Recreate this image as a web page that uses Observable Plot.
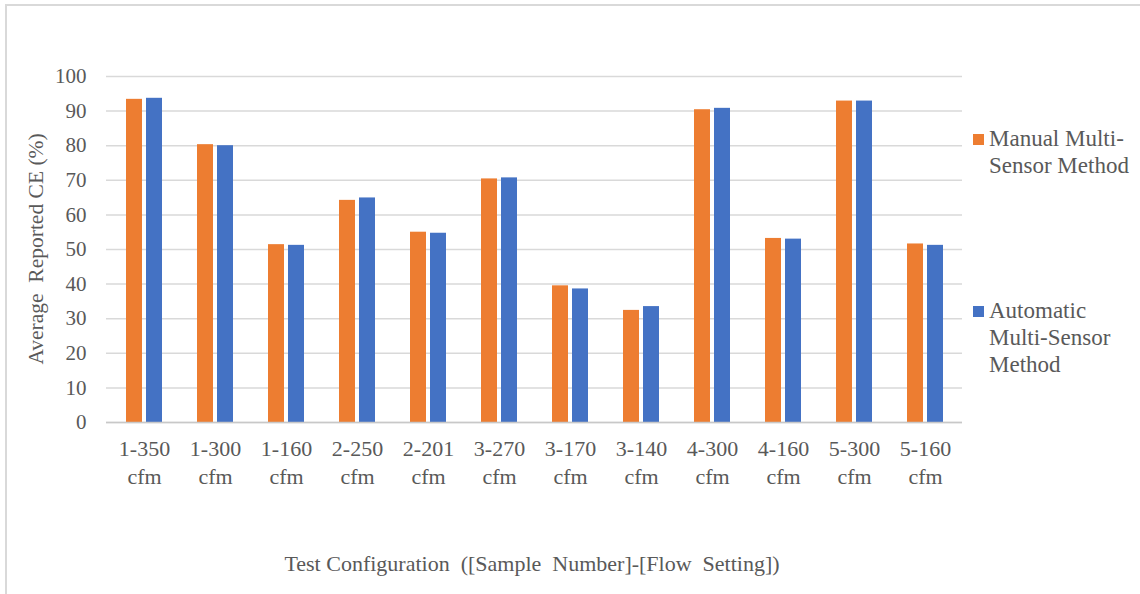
<!DOCTYPE html>
<html>
<head>
<meta charset="utf-8">
<script src="https://cdn.jsdelivr.net/npm/d3@7"></script>
<script src="https://cdn.jsdelivr.net/npm/@observablehq/plot@0.6"></script>
<style>
  html, body { margin: 0; padding: 0; background: #fff; }
  #wrap { position: relative; width: 1140px; height: 594px; overflow: hidden; font-family: "Liberation Serif", "Times New Roman", serif; color: #595959; }
  #frame { position: absolute; left: 5px; top: 4px; width: 1200px; height: 700px; border-left: 2px solid #d9d9d9; border-top: 2px solid #d9d9d9; }
  #chart { position: absolute; left: 0; top: 0; }
  .t { position: absolute; white-space: pre; font-size: 22px; line-height: 27px; }
  #ytitle { left: 36px; top: 249px; transform: translate(-50%, -50%) rotate(-90deg); font-size: 21.5px; }
  #xtitle { left: 532px; top: 563px; transform: translate(-50%, -50%); }
  .leg { position: absolute; left: 973px; font-size: 23px; line-height: 27px; }
  .leg .sw { position: absolute; left: 0; top: 9px; width: 11px; height: 11px; }
  .leg .lb { position: absolute; left: 16px; top: 0; white-space: pre; }
</style>
</head>
<body>
<div id="wrap">
  <div id="frame"></div>
  <div id="chart"></div>
  <div class="t" id="ytitle">Average  Reported CE (%)</div>
  <div class="t" id="xtitle">Test Configuration  ([Sample  Number]-[Flow  Setting])</div>
  <div id="legend"></div>
</div>
<script>
const categories = ["1-350 cfm", "1-300 cfm", "1-160 cfm", "2-250 cfm", "2-201 cfm", "3-270 cfm", "3-170 cfm", "3-140 cfm", "4-300 cfm", "4-160 cfm", "5-300 cfm", "5-160 cfm"];
const manual    = [93.4, 80.3, 51.4, 64.2, 55.0, 70.4, 39.5, 32.4, 90.4, 53.2, 92.9, 51.6];
const automatic = [93.7, 80.0, 51.2, 64.9, 54.7, 70.7, 38.6, 33.5, 90.8, 53.0, 92.9, 51.2];
const seriesNames = ["Manual Multi-\nSensor Method", "Automatic\nMulti-Sensor\nMethod"];
const seriesColors = ["#ED7D31", "#4472C4"];
const yTicks = [0, 10, 20, 30, 40, 50, 60, 70, 80, 90, 100];

const manualData = categories.map((c, i) => ({cat: c, value: manual[i]}));
const autoData = categories.map((c, i) => ({cat: c, value: automatic[i]}));

const chart = Plot.plot({
  width: 1140,
  height: 594,
  marginLeft: 106,
  marginRight: 178,
  marginTop: 76,
  marginBottom: 172,
  style: {fontFamily: "'Liberation Serif', 'Times New Roman', serif", color: "#595959", background: "transparent"},
  x: {domain: categories, paddingInner: 0.495, paddingOuter: 0.2475, label: null},
  y: {domain: [0, 100], label: null},
  marks: [
    Plot.gridY(yTicks, {stroke: "#d9d9d9", strokeOpacity: 1, strokeWidth: 1.5}),
    Plot.barY(manualData, {x: "cat", y: "value", fill: seriesColors[0], insetRight: 20, insetLeft: 0}),
    Plot.barY(autoData, {x: "cat", y: "value", fill: seriesColors[1], insetLeft: 20, insetRight: 0}),
    Plot.ruleY([0], {stroke: "#c8c8c8", strokeWidth: 1.5}),
    Plot.axisY(yTicks, {tickSize: 0, tickPadding: 20, fontSize: 21, label: null, fill: "#595959"}),
    Plot.axisX({tickSize: 0, tickPadding: 14, fontSize: 22, lineHeight: 1.25, label: null, fill: "#595959",
      tickFormat: d => d.replace(" ", "\n")})
  ]
});
document.getElementById("chart").appendChild(chart);

const legend = document.getElementById("legend");
const legTops = [125, 297];
seriesNames.forEach((name, i) => {
  const d = document.createElement("div");
  d.className = "leg";
  d.style.top = legTops[i] + "px";
  const sw = document.createElement("div");
  sw.className = "sw";
  sw.style.background = seriesColors[i];
  const lb = document.createElement("div");
  lb.className = "lb";
  lb.textContent = name;
  d.appendChild(sw);
  d.appendChild(lb);
  legend.appendChild(d);
});
</script>
</body>
</html>
